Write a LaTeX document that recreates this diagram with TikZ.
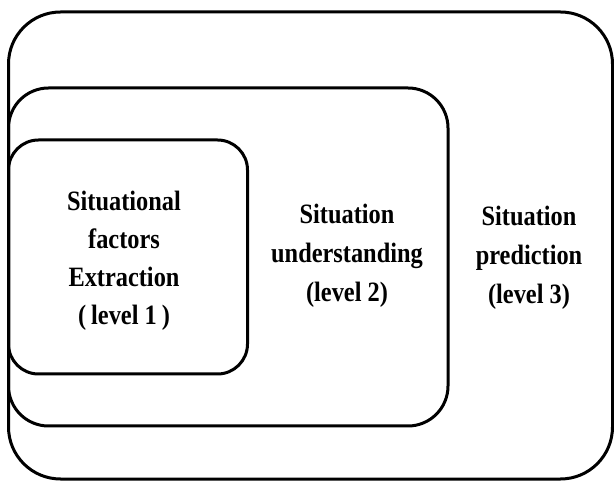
\documentclass[tikz,border=0pt]{standalone}
\usepackage{fontspec}
\newfontfamily\labelfont{Liberation Serif}[FakeStretch=0.87]
\begin{document}
\begin{tikzpicture}[
  x=1pt, y=-1pt,
  levelbox/.style={draw=black, line width=3pt, rectangle, inner sep=0pt},
  leveltext/.style={align=center, font=\labelfont\bfseries\fontsize{28}{38}\selectfont, inner sep=0pt}
]
\useasboundingbox (0,0) rectangle (614,481);

% nested levels, sharing the left edge
\node[levelbox, minimum width=604pt, minimum height=467pt, rounded corners=52pt] (outer) at (310.5,245.5) {};
\node[levelbox, minimum width=439.5pt, minimum height=338pt, rounded corners=40pt] (middle) at (228.25,257) {};
\node[levelbox, minimum width=239pt, minimum height=234pt, rounded corners=30pt] (inner) at (128,257) {};

% level labels
\node[leveltext] (l1) at (124,260.5) {Situational\\factors\\Extraction\\(\hspace{5pt}level 1\hspace{5pt})};
\node[leveltext, font=\labelfont\bfseries\fontsize{28}{39}\selectfont] (l2) at (347,255.5) {Situation\\understanding\\(level 2)};
\node[leveltext, font=\labelfont\bfseries\fontsize{28}{39}\selectfont] (l3) at (529,258) {Situation\\prediction\\(level 3)};
\end{tikzpicture}
\end{document}
